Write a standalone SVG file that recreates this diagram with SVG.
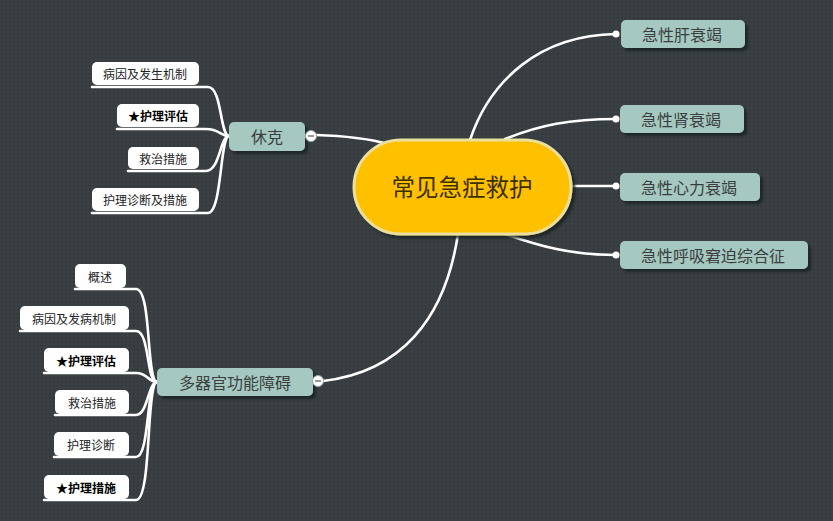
<svg xmlns="http://www.w3.org/2000/svg" width="833" height="521" viewBox="0 0 833 521">
<defs>
<pattern id="dots" width="4" height="4" patternUnits="userSpaceOnUse">
<rect width="4" height="4" fill="#393f42"/>
<rect x="1" y="1" width="1.5" height="1.5" fill="#2f3437"/>
</pattern>
<filter id="sh" x="-10%" y="-20%" width="130%" height="150%">
<feDropShadow dx="3" dy="3" stdDeviation="1.2" flood-color="#1e2224" flood-opacity="0.8"/>
</filter>
</defs>
<style>
.conn{fill:none;stroke:#ffffff;stroke-width:2.6;stroke-linecap:round}
.main{fill:#a5c8c1;filter:url(#sh)}
.mt{font-family:"Noto Sans CJK SC","Liberation Sans",sans-serif;font-size:16px;fill:#3a3f3e;text-anchor:middle;dominant-baseline:central}
.leaf{fill:#ffffff}
.lt{font-family:"Noto Sans CJK SC","Liberation Sans",sans-serif;font-size:12px;fill:#222;text-anchor:middle;dominant-baseline:central}
.lb{font-weight:bold;fill:#000}
.dot{fill:#ffffff}
</style>
<rect width="833" height="521" fill="url(#dots)"/>

<g id="connectors">
<path class="conn" d="M470,140 C490,80 540,35 616,34"/>
<path class="conn" d="M505,139 C540,125 570,119 616,119"/>
<path class="conn" d="M572,186 L616,186"/>
<path class="conn" d="M505,234 C540,246 570,255 616,255"/>
<circle class="dot" cx="616" cy="34" r="3.5"/>
<circle class="dot" cx="616" cy="119" r="3.5"/>
<circle class="dot" cx="616" cy="186" r="3.5"/>
<circle class="dot" cx="616" cy="255" r="3.5"/>
<path class="conn" d="M316,135 C350,136 370,139 388,144"/>
<path class="conn" d="M323,381 C400,372 445,320 458,234"/>
<path class="conn" d="M92,87 H208 C222,87 220,136 229,136"/>
<path class="conn" d="M117,129 H206 C220,129 220,136 229,136"/>
<path class="conn" d="M128,171 H206 C220,171 220,136 229,136"/>
<path class="conn" d="M92,213 H208 C222,213 220,136 229,136"/>
<path class="conn" d="M75,289 H136 C152,289 146,382 157,382"/>
<path class="conn" d="M20,331 H136 C150,331 146,382 157,382"/>
<path class="conn" d="M44,373 H136 C148,373 148,382 157,382"/>
<path class="conn" d="M55,415 H136 C148,415 148,382 157,382"/>
<path class="conn" d="M54,457 H136 C150,457 146,382 157,382"/>
<path class="conn" d="M44,500 H136 C152,500 146,382 157,382"/>
</g>

<g id="center">
<rect x="354" y="140" width="217" height="94" rx="47" fill="#ffc000" stroke="#eadf9c" stroke-width="3" filter="url(#sh)"/>
<text x="462" y="186" font-family="Noto Sans CJK SC,Liberation Sans,sans-serif" font-size="23.5" fill="#3b3100" text-anchor="middle" dominant-baseline="central">常见急症救护</text>
</g>

<g id="n-gan"><rect class="main" x="621" y="20" width="124" height="28" rx="5"/><text class="mt" x="682" y="34">急性肝衰竭</text></g>
<g id="n-shen"><rect class="main" x="620" y="105" width="124" height="28" rx="5"/><text class="mt" x="681" y="119">急性肾衰竭</text></g>
<g id="n-xin"><rect class="main" x="620" y="173" width="140" height="28" rx="5"/><text class="mt" x="689" y="187">急性心力衰竭</text></g>
<g id="n-huxi"><rect class="main" x="620" y="241" width="188" height="28" rx="5"/><text class="mt" x="713" y="255">急性呼吸窘迫综合征</text></g>

<g id="n-xiuke">
<rect class="main" x="229" y="122" width="76" height="29" rx="5"/><text class="mt" x="267" y="136">休克</text>
<circle cx="311" cy="136" r="5.5" fill="#ffffff" stroke="#9aa" stroke-width="1"/><line x1="308" y1="136" x2="314" y2="136" stroke="#555" stroke-width="1.2"/>
</g>
<g id="x1"><rect class="leaf" x="92" y="62" width="107" height="23" rx="5"/><text class="lt" x="145" y="73">病因及发生机制</text></g>
<g id="x2"><rect class="leaf" x="117" y="104" width="82" height="23" rx="5"/><text class="lt lb" x="158" y="115">★护理评估</text></g>
<g id="x3"><rect class="leaf" x="128" y="147" width="71" height="22" rx="5"/><text class="lt" x="163" y="158">救治措施</text></g>
<g id="x4"><rect class="leaf" x="92" y="188" width="107" height="23" rx="5"/><text class="lt" x="145" y="199">护理诊断及措施</text></g>

<g id="n-duoqiguan">
<rect class="main" x="157" y="368" width="156" height="28" rx="5"/><text class="mt" x="235" y="382">多器官功能障碍</text>
<circle cx="318" cy="381" r="5.5" fill="#ffffff" stroke="#9aa" stroke-width="1"/><line x1="315" y1="381" x2="321" y2="381" stroke="#555" stroke-width="1.2"/>
</g>
<g id="d1"><rect class="leaf" x="75" y="264" width="51" height="24" rx="5"/><text class="lt" x="100" y="276">概述</text></g>
<g id="d2"><rect class="leaf" x="20" y="306" width="109" height="24" rx="5"/><text class="lt" x="74" y="318">病因及发病机制</text></g>
<g id="d3"><rect class="leaf" x="44" y="348" width="85" height="24" rx="5"/><text class="lt lb" x="86" y="360">★护理评估</text></g>
<g id="d4"><rect class="leaf" x="55" y="390" width="74" height="24" rx="5"/><text class="lt" x="92" y="402">救治措施</text></g>
<g id="d5"><rect class="leaf" x="54" y="432" width="75" height="24" rx="5"/><text class="lt" x="91" y="444">护理诊断</text></g>
<g id="d6"><rect class="leaf" x="44" y="475" width="85" height="24" rx="5"/><text class="lt lb" x="86" y="487">★护理措施</text></g>
</svg>
